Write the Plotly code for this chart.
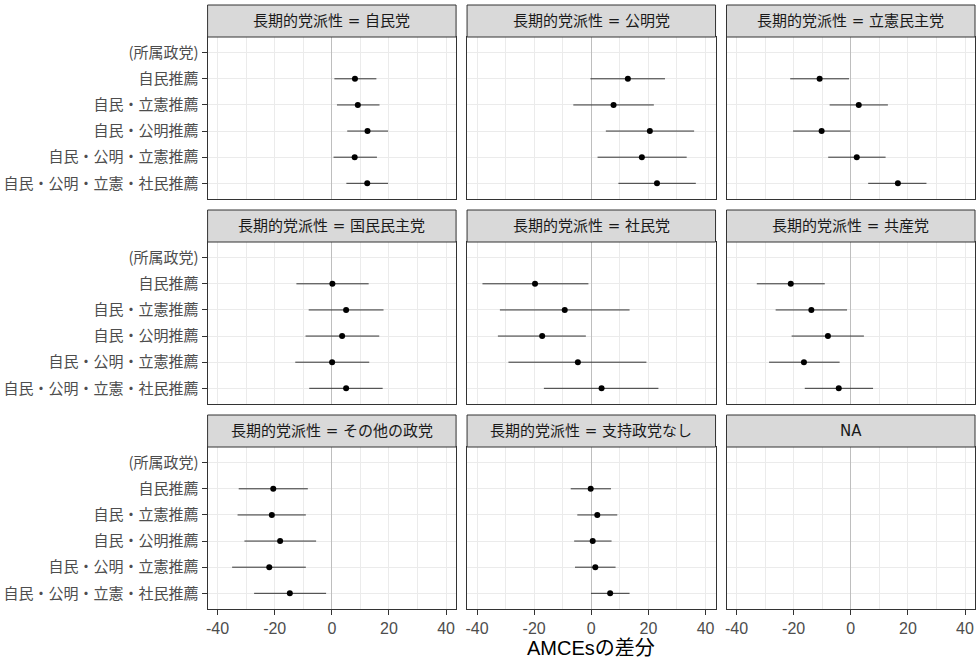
import plotly.graph_objects as go

W, H = 978, 659

categories = ["(所属政党)", "自民推薦", "自民・立憲推薦", "自民・公明推薦",
              "自民・公明・立憲推薦", "自民・公明・立憲・社民推薦"]
estimated = categories[1:]

panels = ["長期的党派性 = 自民党", "長期的党派性 = 公明党", "長期的党派性 = 立憲民主党",
          "長期的党派性 = 国民民主党", "長期的党派性 = 社民党", "長期的党派性 = 共産党",
          "長期的党派性 = その他の政党", "長期的党派性 = 支持政党なし", "NA"]

x_ticks = [-40, -20, 0, 20, 40]
x_title = "AMCEsの差分"

jimin_est = [8.1, 9.1, 12.5, 8.0, 12.4]
jimin_lo = [0.9, 1.8, 5.4, 0.6, 5.1]
jimin_hi = [15.6, 16.7, 19.7, 15.8, 19.7]

komei_est = [12.8, 7.8, 20.5, 17.7, 23.0]
komei_lo = [-0.3, -6.3, 5.1, 2.2, 9.5]
komei_hi = [25.8, 21.9, 36.0, 33.4, 36.6]

rikken_est = [-10.9, 2.8, -10.2, 2.1, 16.5]
rikken_lo = [-21.2, -7.4, -20.2, -7.9, 6.1]
rikken_hi = [-0.6, 13.0, -0.2, 12.2, 26.5]

kokumin_est = [0.2, 5.0, 3.6, 0.1, 5.0]
kokumin_lo = [-12.4, -8.1, -9.2, -12.8, -7.9]
kokumin_hi = [12.9, 18.1, 16.6, 13.1, 17.8]

shamin_est = [-19.7, -9.3, -17.2, -4.7, 3.6]
shamin_lo = [-38.1, -32.0, -32.7, -29.0, -16.6]
shamin_hi = [-1.0, 13.4, -1.9, 19.3, 23.5]

kyosan_est = [-21.0, -13.8, -8.0, -16.4, -4.2]
kyosan_lo = [-32.9, -26.3, -20.7, -28.6, -16.1]
kyosan_hi = [-9.1, -1.3, 4.6, -3.9, 7.8]

sonota_est = [-20.5, -21.0, -18.1, -21.9, -14.7]
sonota_lo = [-32.6, -33.0, -30.6, -34.9, -27.2]
sonota_hi = [-8.4, -9.1, -5.5, -9.1, -2.0]

nashi_est = [-0.2, 2.1, 0.5, 1.4, 6.6]
nashi_lo = [-7.2, -4.9, -6.0, -5.7, -0.1]
nashi_hi = [6.9, 9.1, 7.1, 8.5, 13.4]

na_est, na_lo, na_hi = [], [], []

series = [
    (jimin_est, jimin_lo, jimin_hi),
    (komei_est, komei_lo, komei_hi),
    (rikken_est, rikken_lo, rikken_hi),
    (kokumin_est, kokumin_lo, kokumin_hi),
    (shamin_est, shamin_lo, shamin_hi),
    (kyosan_est, kyosan_lo, kyosan_hi),
    (sonota_est, sonota_lo, sonota_hi),
    (nashi_est, nashi_lo, nashi_hi),
    (na_est, na_lo, na_hi),
]

# layout geometry (pixels)
col_x0 = [206, 466, 726]
panel_w = 249
row_y0 = [37, 242, 447]
panel_h = 162
strip_h = 32


def px(v):
    return v / W


def py(v):
    return 1 - v / H


cat_pos = {c: i + 1 for i, c in enumerate(categories)}

FONT_CJK = "Noto Sans CJK JP"
FONT_STRIP = "DejaVu Sans, Noto Sans CJK JP"
FONT_TICK = "Liberation Sans, Noto Sans CJK JP"
GRID = "#EBEBEB"
BORDER = "#333333"

fig = go.Figure()
layout = dict(
    width=W, height=H, margin=dict(l=0, r=0, t=0, b=0),
    paper_bgcolor="white", plot_bgcolor="white", showlegend=False,
    font=dict(family=FONT_TICK, color="#4D4D4D"),
)
shapes = []
annotations = []

for i, (name, (est, lo, hi)) in enumerate(zip(panels, series)):
    r, c = divmod(i, 3)
    n = i + 1
    x0 = col_x0[c]
    y0 = row_y0[r]
    xd = [px(x0), px(x0 + panel_w)]
    yd = [py(y0 + panel_h), py(y0)]
    ys = [cat_pos[cat] for cat in estimated[:len(est)]]
    fig.add_trace(go.Scatter(
        x=est, y=ys, mode="markers",
        marker=dict(color="black", size=6),
        error_x=dict(type="data", symmetric=False,
                     array=[h - e for h, e in zip(hi, est)],
                     arrayminus=[e - l for e, l in zip(est, lo)],
                     width=0, thickness=1, color="#333333"),
        xaxis=f"x{n}", yaxis=f"y{n}", cliponaxis=False,
    ))
    show_x = (r == 2)
    show_y = (c == 0)
    layout[f"xaxis{n}"] = dict(
        domain=xd, anchor=f"y{n}", range=[-43.5, 43.5],
        tickmode="array", tickvals=x_ticks, ticktext=[str(v) for v in x_ticks],
        showticklabels=show_x, ticks="outside" if show_x else "",
        ticklen=5, tickwidth=1, tickcolor=BORDER,
        tickfont=dict(family=FONT_TICK, size=16, color="#4D4D4D"),
        showgrid=True, gridcolor=GRID, gridwidth=1,
        minor=dict(tickvals=[-30, -10, 10, 30], showgrid=True, gridcolor=GRID, gridwidth=0.6, ticks=""),
        zeroline=True, zerolinecolor="#BEBEBE", zerolinewidth=1,
        showline=True, linecolor=BORDER, linewidth=1, mirror=True,
        fixedrange=True,
    )
    layout[f"yaxis{n}"] = dict(
        domain=yd, anchor=f"x{n}", range=[len(categories) + 0.6, 0.4],
        tickmode="array", tickvals=[cat_pos[cc] for cc in categories], ticktext=categories,
        showticklabels=show_y, ticks="outside" if show_y else "",
        ticklen=5, tickwidth=1, tickcolor=BORDER,
        tickfont=dict(family=FONT_CJK, size=15, color="#4D4D4D"),
        showgrid=True, gridcolor=GRID, gridwidth=1,
        zeroline=False,
        showline=True, linecolor=BORDER, linewidth=1, mirror=True,
        fixedrange=True,
    )
    # strip
    shapes.append(dict(type="rect", xref="paper", yref="paper",
                       x0=px(x0), x1=px(x0 + panel_w),
                       y0=py(y0), y1=py(y0 - strip_h),
                       fillcolor="#D9D9D9", line=dict(color=BORDER, width=1)))
    annotations.append(dict(xref="paper", yref="paper",
                            x=px(x0 + panel_w / 2), y=py(y0 - strip_h / 2),
                            text=name, showarrow=False, xanchor="center", yanchor="middle",
                            font=dict(family=FONT_STRIP, size=15, color="#1A1A1A")))

annotations.append(dict(xref="paper", yref="paper",
                        x=px((col_x0[0] + col_x0[2] + panel_w) / 2), y=py(648),
                        text=x_title, showarrow=False, xanchor="center", yanchor="middle",
                        font=dict(family=FONT_TICK, size=20, color="black")))

layout["shapes"] = shapes
layout["annotations"] = annotations
fig.update_layout(**layout)
fig.write_html(
    "out.html",
    config={"displayModeBar": False},
    post_script="document.body.style.margin='0';document.body.style.overflow='hidden';",
)
